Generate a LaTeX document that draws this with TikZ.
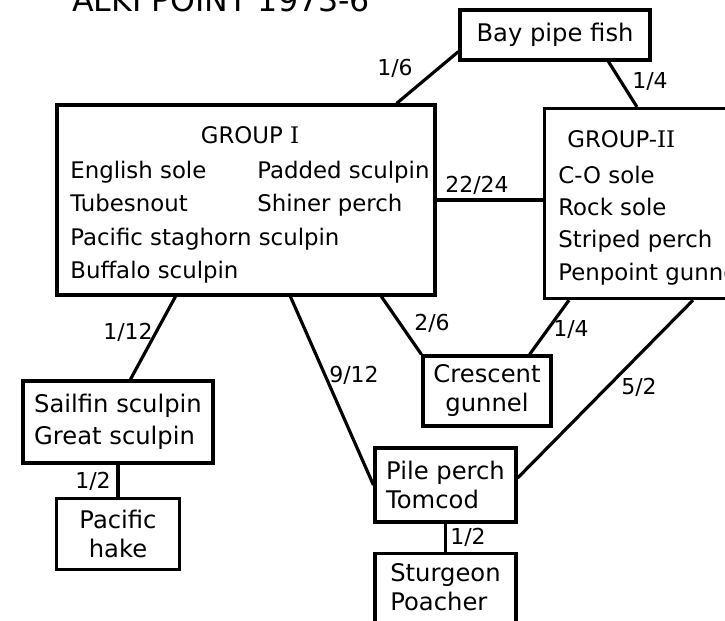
\documentclass[tikz,border=0pt]{standalone}
\usepackage{fontspec}
\setmainfont{DejaVu Sans}
\newfontfamily\romfont{DejaVu Serif}
\usetikzlibrary{positioning,calc}

\begin{document}
\begin{tikzpicture}[font=\fontsize{13}{16}\selectfont,
    box/.style={draw, line width=1.8pt, inner sep=0pt, align=center, font=\fontsize{13.8}{16.5}\selectfont},
    item/.style={anchor=base west, inner sep=0pt},
    link/.style={line width=1.8pt},
    lbl/.style={font=\fontsize{12.5}{14}\selectfont, inner sep=1pt}]
    \useasboundingbox (0,0) rectangle (14.5,12.4);
    \node[anchor=base west, font=\fontsize{18}{20}\selectfont] (title) at (1.32,12.16) {ALKI POINT 1973-6};
    % boxes
    \node[box, minimum width=3.8cm, minimum height=1cm] (bay) at (11.1,11.7) {Bay pipe fish};
    \node[box, minimum width=7.56cm, minimum height=3.8cm] (grpI) at (4.92,8.4) {};
    \node[box, anchor=north west, minimum width=4.4cm, minimum height=3.8cm] (grpII) at (10.86,10.26) {};
    \node[box, minimum width=2.56cm, minimum height=1.4cm] (cres) at (9.74,4.58) {Crescent\\gunnel};
    \node[box, minimum width=2.82cm, minimum height=1.48cm, align=left] (pile) at (8.91,2.70) {Pile perch\\Tomcod};
    \node[box, minimum width=2.82cm, align=left, inner ysep=6pt, text depth=0.9cm, below=5.6mm of pile] (sturg) {Sturgeon\\Poacher};
    \node[box, minimum width=3.8cm, minimum height=1.64cm, align=left] (sail) at (2.36,3.96) {Sailfin sculpin\\[2pt]Great sculpin};
    \node[box, minimum width=2.46cm, minimum height=1.42cm, below=6.4mm of sail] (hake) {Pacific\\hake};
    % group I
    \node[anchor=base] (gIhead) at (5.0,9.54) {GROUP {\romfont I}};
    \node[item] (english) at (1.4,8.84) {English sole};
    \node[item] (padded) at (5.14,8.84) {Padded sculpin};
    \node[item] (tube) at (1.4,8.18) {Tubesnout};
    \node[item] (shiner) at (5.14,8.18) {Shiner perch};
    \node[item] (stag) at (1.4,7.5) {Pacific staghorn sculpin};
    \node[item] (buff) at (1.4,6.84) {Buffalo sculpin};
    % group II
    \node[item] (gIIhead) at (11.34,9.46) {GROUP-{\romfont II}};
    \node[item] (cosole) at (11.16,8.74) {C-O sole};
    \node[item] (rock) at (11.16,8.1) {Rock sole};
    \node[item] (striped) at (11.16,7.46) {Striped perch};
    \node[item] (penpoint) at (11.16,6.8) {Penpoint gunnel};
    % links
    \draw[link] ($(bay.south west)+(0,0.2)$) -- ($(grpI.north east)+(-0.8,0)$) node[lbl] (l16) at (7.9,11.04) {1/6};
    \draw[link] ($(bay.south west)+(3.0,0)$) -- ($(grpII.north west)+(1.88,0)$) node[lbl] (l14a) at (13.0,10.76) {1/4};
    \draw[link] (grpI.east) -- (grpII.west |- grpI.east) node[lbl] (l2224) at (9.54,8.7) {22/24};
    \draw[link] ($(grpI.south west)+(2.4,0)$) -- ($(sail.north west)+(2.18,0)$) node[lbl] (l112) at (2.56,5.76) {1/12};
    \draw[link] (sail.south) -- (hake.north) node[lbl] (l12a) at (1.86,2.78) {1/2};
    \draw[link] ($(grpI.south west)+(4.7,0)$) -- (pile.west) node[lbl] (l912) at (7.08,4.9) {9/12};
    \draw[link] ($(grpI.south west)+(6.52,0)$) -- (cres.north west) node[lbl] (l26) at (8.64,5.94) {2/6};
    \draw[link] ($(grpII.south west)+(0.52,0)$) -- ($(cres.north east)+(-0.46,0)$) node[lbl] (l14b) at (11.42,5.8) {1/4};
    \draw[link] ($(grpII.south west)+(3.0,0)$) -- ($(pile.east)+(0,0.14)$) node[lbl] (l52) at (12.78,4.66) {5/2};
    \draw[link] (pile.south) -- (sturg.north) node[lbl] (l12b) at (9.36,1.66) {1/2};
\end{tikzpicture}
\end{document}
